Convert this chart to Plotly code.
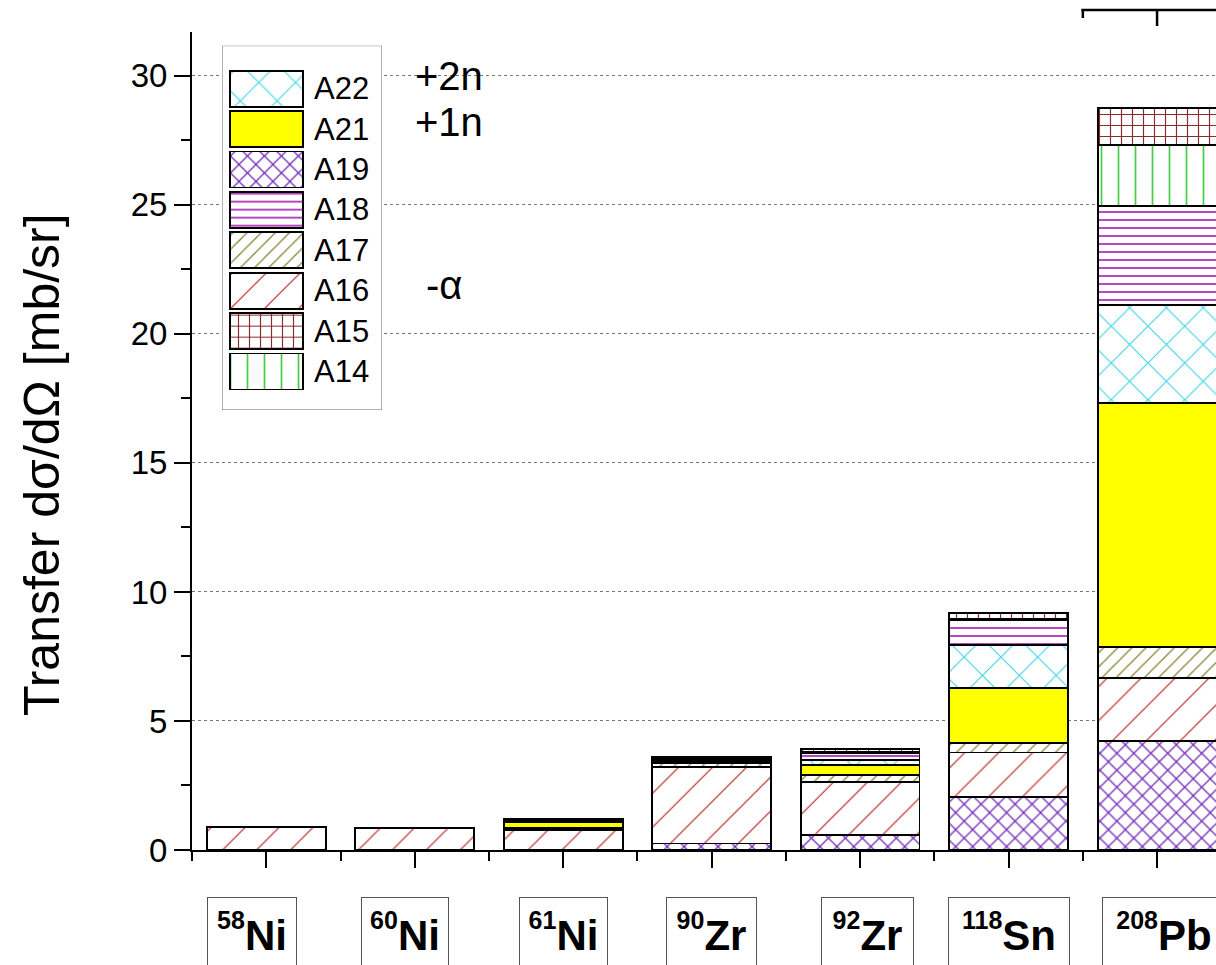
import plotly.graph_objects as go

# ---------------- data ----------------
categories = ["58Ni", "60Ni", "61Ni", "90Zr", "92Zr", "118Sn", "208Pb"]
cat_mass = ["58", "60", "61", "90", "92", "118", "208"]
cat_elem = ["Ni", "Ni", "Ni", "Zr", "Zr", "Sn", "Pb"]
x_pos = [0, 1, 2, 3, 4, 5, 6]

# stacked from bottom to top: A19, A16, A17, A21, A22, A18, A14, A15
A19 = [0, 0, 0, 0.25, 0.58, 2.04, 4.22]
A16 = [0.90, 0.86, 0.77, 2.98, 2.06, 1.74, 2.44]
A17 = [0, 0, 0.07, 0.13, 0.27, 0.38, 1.22]
A21 = [0, 0, 0.23, 0.03, 0.38, 2.13, 9.44]
A22 = [0, 0, 0.02, 0.05, 0.20, 1.66, 3.80]
A18 = [0, 0, 0.03, 0.08, 0.26, 0.96, 3.83]
A14 = [0, 0, 0.03, 0.04, 0.06, 0.06, 2.38]
A15 = [0, 0, 0.04, 0.05, 0.10, 0.23, 1.41]

stack_order = ["A19", "A16", "A17", "A21", "A22", "A18", "A14", "A15"]
legend_order = ["A22", "A21", "A19", "A18", "A17", "A16", "A15", "A14"]
values = {"A19": A19, "A16": A16, "A17": A17, "A21": A21,
          "A22": A22, "A18": A18, "A14": A14, "A15": A15}

y_ticks = [0, 5, 10, 15, 20, 25, 30]
y_title = "Transfer dσ/dΩ [mb/sr]"
notes = ["+2n", "+1n", "-α"]

# ---------------- styles ----------------
FONT = "Liberation Sans, Arial, sans-serif"
styles = {
    "A22": dict(shape="x", fg="rgb(70,215,230)", bg="white", size=26, sol=0.09),
    "A21": dict(shape="", fg="#ffff00", bg="#ffff00", size=10, sol=0.3),
    "A19": dict(shape="x", fg="rgb(115,45,185)", bg="white", size=12, sol=0.2),
    "A18": dict(shape="-", fg="rgb(185,70,195)", bg="white", size=8, sol=0.25),
    "A17": dict(shape="/", fg="rgb(135,135,55)", bg="white", size=10, sol=0.13),
    "A16": dict(shape="/", fg="rgb(185,35,35)", bg="white", size=24, sol=0.05),
    "A15": dict(shape="+", fg="rgb(135,45,45)", bg="white", size=11, sol=0.2),
    "A14": dict(shape="|", fg="rgb(70,205,70)", bg="white", size=17, sol=0.1),
}


def marker_for(name):
    s = styles[name]
    m = dict(color=s["fg"], line=dict(color="black", width=1.8))
    if s["shape"]:
        m["pattern"] = dict(shape=s["shape"], fgcolor=s["fg"], bgcolor=s["bg"],
                            size=s["size"], solidity=s["sol"], fillmode="replace")
    return m


fig = go.Figure()

for name in stack_order:
    fig.add_trace(go.Bar(x=x_pos, y=values[name], name=name, width=0.8,
                         marker=marker_for(name), showlegend=False))

# custom legend drawn in an inset subplot (x2/y2)
sw_x0, sw_w = 0.05, 0.456
for i, name in enumerate(legend_order):
    fig.add_trace(go.Bar(x=[sw_w], base=[sw_x0], y=[i], orientation="h", width=0.89,
                         marker=marker_for(name), xaxis="x2", yaxis="y2",
                         showlegend=False, hoverinfo="skip"))

annotations = []
for i, name in enumerate(legend_order):
    annotations.append(dict(x=0.56, y=i, xref="x2", yref="y2", text=name,
                            showarrow=False, xanchor="left", yanchor="middle",
                            font=dict(family=FONT, size=31, color="black")))

# boxed isotope labels below the axis
label_shift = [-0.094, -0.064, 0.0, 0.0, 0.05, 0.0, 0.05]
label_w = [72, 70, 71, 73, 75, 104, 106]
for xp, ms, el, sh, w in zip(x_pos, cat_mass, cat_elem, label_shift, label_w):
    txt = ("<b><span style='font-size:25px;baseline-shift:21px'>" + ms +
           "</span>" + el + "</b>")
    annotations.append(dict(x=xp + sh, y=-0.0575, xref="x", yref="paper",
                            text=txt, showarrow=False,
                            xanchor="center", yanchor="top", valign="top",
                            width=w, height=70, borderpad=8,
                            bordercolor="#555", borderwidth=1, bgcolor="white",
                            font=dict(family=FONT, size=42, color="black")))

# reaction-channel notes
for txt, xx, yy in zip(notes, [0.99, 0.99, 1.06], [30.0, 28.2, 21.9]):
    annotations.append(dict(x=xx, y=yy, xref="x", yref="y", text=txt, showarrow=False,
                            xanchor="left", yanchor="middle",
                            font=dict(family=FONT, size=40, color="black")))

# y-axis title
annotations.append(dict(x=-0.146, y=0.4713, xref="paper", yref="paper",
                        text=y_title, textangle=-90, showarrow=False,
                        xanchor="center", yanchor="middle",
                        font=dict(family=FONT, size=50, color="black")))

shapes = [
    # legend frame (in inset subplot so it hides the grid lines)
    dict(type="rect", xref="x2", yref="y2", x0=0, x1=1, y0=-1.064, y1=7.953,
         line=dict(color="#666", width=1), fillcolor="white", layer="below"),
    # fragment of the top axis at the upper right
    dict(type="line", xref="x", yref="paper", x0=5.49, x1=6.5, y0=1.0269, y1=1.0269,
         line=dict(color="black", width=2.5)),
    dict(type="line", xref="x", yref="paper", x0=5.5, x1=5.5, y0=1.0269, y1=1.0171,
         line=dict(color="black", width=2.5)),
    dict(type="line", xref="x", yref="paper", x0=6.0, x1=6.0, y0=1.0269, y1=1.0073,
         line=dict(color="black", width=2.5)),
]

fig.update_layout(
    width=1216, height=965,
    margin=dict(l=192, r=0, t=32, b=115, pad=0),
    paper_bgcolor="white", plot_bgcolor="white",
    barmode="stack",
    font=dict(family=FONT, color="black"),
    xaxis=dict(range=[-0.5005, 6.397], showgrid=False, zeroline=False,
               showline=True, linecolor="black", linewidth=2,
               ticks="outside", ticklen=16, tickwidth=2, tickcolor="black",
               tickmode="array", tickvals=x_pos, showticklabels=False,
               minor=dict(tickmode="array", tickvals=[-0.5, 0.5, 1.5, 2.5, 3.5, 4.5, 5.5, 6.5],
                          ticks="outside", ticklen=9, tickwidth=2, tickcolor="black",
                          showgrid=False)),
    yaxis=dict(range=[0, 31.7], tickmode="array", tickvals=y_ticks,
               showline=True, linecolor="black", linewidth=2,
               ticks="outside", ticklen=16, tickwidth=2, tickcolor="black",
               tickfont=dict(family=FONT, size=33, color="black"),
               showgrid=True, gridcolor="#777", griddash="dot", gridwidth=1,
               zeroline=False,
               minor=dict(dtick=2.5, tick0=0, ticks="outside", ticklen=9, tickwidth=2,
                          tickcolor="black", showgrid=False)),
    xaxis2=dict(domain=[0.0293, 0.1855], range=[0, 1], anchor="y2", visible=False,
                fixedrange=True),
    yaxis2=dict(domain=[0.5379, 0.9833], range=[7.953, -1.064], anchor="x2", visible=False,
                fixedrange=True),
    annotations=annotations,
    shapes=shapes,
)

fig.write_html("out.html")
